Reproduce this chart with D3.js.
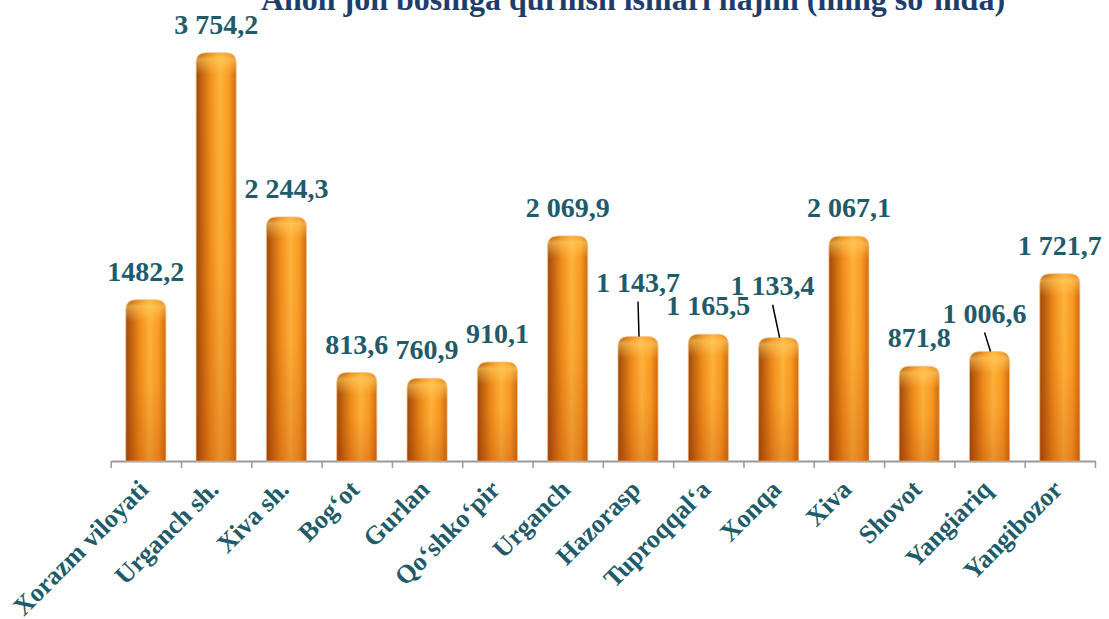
<!DOCTYPE html>
<html>
<head>
<meta charset="utf-8">
<script src="https://cdn.jsdelivr.net/npm/d3@7"></script>
<style>
  body { margin: 0; background: #fff; }
  svg { display: block; }
  text { font-family: "Liberation Serif", "Times New Roman", serif; font-weight: bold; }
</style>
</head>
<body>
<svg id="chart" width="1109" height="619"></svg>
<script>
var title = "Aholi jon boshiga qurilish ishlari hajmi (ming so‘mda)";

var categories = ["Xorazm viloyati", "Urganch sh.", "Xiva sh.", "Bog‘ot", "Gurlan", "Qo‘shko‘pir",
    "Urganch", "Hazorasp", "Tuproqqal‘a", "Xonqa", "Xiva", "Shovot", "Yangiariq", "Yangibozor"];

var values = [1482.2, 3754.2, 2244.3, 813.6, 760.9, 910.1, 2069.9, 1143.7, 1165.5, 1133.4, 2067.1, 871.8, 1006.6, 1721.7];

var valueLabels = ["1482,2", "3 754,2", "2 244,3", "813,6", "760,9", "910,1", "2 069,9",
    "1 143,7", "1 165,5", "1 133,4", "2 067,1", "871,8", "1 006,6", "1 721,7"];

// label nudges [dx, dy] where the original labels were moved by hand
var labelShift = [[0, 0], [0, 0], [0, 0], [0, 0], [0, 0], [0, 0], [0, 0],
    [0, -26], [0, 0], [-6, -24], [0, 0], [0, 0], [-5, -10], [0, 0]];
// labels that have a leader line to their bar
var leaders = [7, 9, 12];

var svg = d3.select("#chart");
var textColor = "#215a69";

var x = d3.scaleBand()
    .domain(categories)
    .range([110.7, 1095])
    .paddingInner(0.43)
    .paddingOuter(0.215);

var y = d3.scaleLinear()
    .domain([0, 4000])
    .range([461, 26]);

// gradients for the cylinder look
var defs = svg.append("defs");
var hg = defs.append("linearGradient").attr("id", "barH")
    .attr("x1", 0).attr("y1", 0).attr("x2", 1).attr("y2", 0);
[[0, "#9c4a0a"], [0.12, "#bd610e"], [0.35, "#f08e1c"], [0.6, "#ffb43a"], [0.82, "#f99b22"], [1, "#cf6c10"]]
    .forEach(function (s) { hg.append("stop").attr("offset", s[0]).attr("stop-color", s[1]); });

var vg = defs.append("linearGradient").attr("id", "barV")
    .attr("x1", 0).attr("y1", 0).attr("x2", 0).attr("y2", 1);
vg.append("stop").attr("offset", 0).attr("stop-color", "#b03000").attr("stop-opacity", 0);
vg.append("stop").attr("offset", 0.5).attr("stop-color", "#b03000").attr("stop-opacity", 0.05);
vg.append("stop").attr("offset", 1).attr("stop-color", "#a02800").attr("stop-opacity", 0.25);

var cg = defs.append("linearGradient").attr("id", "barCap")
    .attr("x1", 0).attr("y1", 0).attr("x2", 0).attr("y2", 1);
cg.append("stop").attr("offset", 0).attr("stop-color", "#ffd36a").attr("stop-opacity", 0.0);
cg.append("stop").attr("offset", 0.3).attr("stop-color", "#ffd36a").attr("stop-opacity", 0.55);
cg.append("stop").attr("offset", 1).attr("stop-color", "#ffd36a").attr("stop-opacity", 0);

function barPath(x0, y0, w, h, r) {
    return "M" + x0 + "," + (y0 + h) +
        "V" + (y0 + r) +
        "Q" + x0 + "," + y0 + " " + (x0 + r) + "," + y0 +
        "H" + (x0 + w - r) +
        "Q" + (x0 + w) + "," + y0 + " " + (x0 + w) + "," + (y0 + r) +
        "V" + (y0 + h) + "Z";
}

// title (partly cut by the top edge like the original)
svg.append("text")
    .attr("x", 633)
    .attr("y", 10)
    .attr("text-anchor", "middle")
    .attr("font-size", "32px")
    .attr("fill", "#1f3d6b")
    .text(title);

// axis with ticks on the band edges
var edges = d3.scaleLinear().domain([0, categories.length]).range(x.range());
var axis = svg.append("g")
    .attr("transform", "translate(0," + y(0) + ")")
    .call(d3.axisBottom(edges).tickValues(d3.range(categories.length + 1)).tickFormat("").tickSize(7).tickSizeOuter(0));
axis.select(".domain").attr("stroke", "#999").attr("stroke-width", 2);
axis.selectAll(".tick line").attr("stroke", "#999").attr("stroke-width", 1.5);

var bars = svg.selectAll(".bar")
    .data(values)
    .enter().append("g")
    .attr("class", "bar");

bars.append("path")
    .attr("d", function (d, i) { return barPath(x(categories[i]), y(d), x.bandwidth(), y(0) - y(d), 10); })
    .attr("fill", "url(#barH)")
    .attr("stroke", "#f3c48e")
    .attr("stroke-width", 0.8);

bars.append("path")
    .attr("d", function (d, i) { return barPath(x(categories[i]), y(d), x.bandwidth(), y(0) - y(d), 10); })
    .attr("fill", "url(#barV)");

bars.append("path")
    .attr("d", function (d, i) { return barPath(x(categories[i]), y(d), x.bandwidth(), 22, 10); })
    .attr("fill", "url(#barCap)");

// leader lines
leaders.forEach(function (i) {
    var cx = x(categories[i]) + x.bandwidth() / 2;
    svg.append("line")
        .attr("x1", cx + labelShift[i][0])
        .attr("y1", y(values[i]) - 19 + labelShift[i][1] + 10)
        .attr("x2", cx + 1)
        .attr("y2", y(values[i]))
        .attr("stroke", "#000")
        .attr("stroke-width", 1.5);
});

// value labels
svg.selectAll(".val")
    .data(values)
    .enter().append("text")
    .attr("class", "val")
    .attr("x", function (d, i) { return x(categories[i]) + x.bandwidth() / 2 + labelShift[i][0]; })
    .attr("y", function (d, i) { return y(d) - 19 + labelShift[i][1]; })
    .attr("text-anchor", "middle")
    .attr("font-size", "28px")
    .attr("fill", textColor)
    .text(function (d, i) { return valueLabels[i]; });

// category labels
svg.selectAll(".cat")
    .data(categories)
    .enter().append("text")
    .attr("class", "cat")
    .attr("transform", function (d) {
        return "translate(" + (x(d) + x.bandwidth() / 2 + 4) + ",491) rotate(-45)";
    })
    .attr("text-anchor", "end")
    .attr("font-size", "26px")
    .attr("fill", textColor)
    .text(function (d) { return d; });
</script>
</body>
</html>
